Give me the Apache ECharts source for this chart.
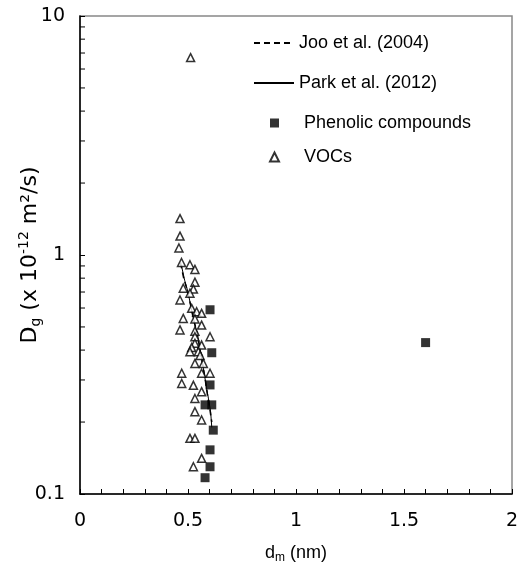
<!DOCTYPE html>
<html><head><meta charset="utf-8">
<script src="https://cdn.jsdelivr.net/npm/echarts@6/dist/echarts.min.js"></script>
<style>html,body{margin:0;padding:0;background:#fff}#c{width:519px;height:563px}</style>
</head><body><div id="c"></div>
<script>
// ---- data ----
const xTickLabels = ['0', '0.5', '1', '1.5', '2'];
const yTickLabels = ['0.1', '1', '10'];
const yMinorTickValues = [0.2,0.3,0.4,0.5,0.6,0.7,0.8,0.9,2,3,4,5,6,7,8,9];
const lineNames = ['Joo et al. (2004)', 'Park et al. (2012)'];
const markerNames = ['Phenolic compounds', 'VOCs'];
const jooLine = [[0.465,0.93],[0.48,0.8],[0.495,0.72],[0.505,0.66],[0.515,0.6],[0.525,0.54],[0.54,0.48],[0.55,0.43],[0.56,0.38],[0.57,0.34],[0.58,0.3],[0.59,0.26],[0.6,0.23],[0.61,0.2]];
const parkLine = [[0.47,0.9],[0.485,0.78],[0.5,0.7],[0.51,0.63],[0.52,0.57],[0.53,0.52],[0.545,0.46],[0.555,0.41],[0.565,0.36],[0.575,0.32],[0.585,0.28],[0.595,0.25],[0.605,0.22],[0.61,0.19]];
const phenolic = [[1.6,0.43],[0.602,0.59],[0.61,0.39],[0.602,0.286],[0.579,0.236],[0.61,0.236],[0.617,0.185],[0.602,0.153],[0.602,0.13],[0.579,0.117]];
const vocs = [[0.512,6.7],[0.463,1.42],[0.463,1.2],[0.458,1.07],[0.47,0.93],[0.509,0.91],[0.532,0.87],
 [0.532,0.77],[0.478,0.726],[0.525,0.72],[0.509,0.692],[0.463,0.648],[0.517,0.598],[0.54,0.579],[0.563,0.57],
 [0.478,0.543],[0.532,0.54],[0.563,0.509],[0.463,0.486],[0.532,0.48],[0.602,0.455],[0.532,0.455],
 [0.532,0.427],[0.517,0.41],[0.563,0.42],[0.509,0.394],[0.548,0.394],[0.556,0.38],[0.532,0.352],[0.571,0.352],
 [0.471,0.32],[0.563,0.32],[0.602,0.32],[0.471,0.29],[0.525,0.285],[0.563,0.268],[0.532,0.251],[0.532,0.221],
 [0.563,0.204],[0.509,0.171],[0.532,0.171],[0.563,0.141],[0.525,0.13]];

const FONT = 'Liberation Sans, Arial, sans-serif';
const WFONT = 'DejaVu Sans, sans-serif';
const chart = echarts.init(document.getElementById('c'));
chart.setOption({
  animation: false,
  backgroundColor: '#fff',
  grid: {left: 80, right: 7, top: 16, bottom: 69, show: true, borderColor: '#888', borderWidth: 1.5,
         containLabel: false, outerBoundsMode: 'none'},
  legend: [{
    orient: 'vertical', left: 248, top: 29, itemWidth: 40, itemHeight: 9, itemGap: 22,
    data: lineNames, itemStyle: {opacity: 0},
    textStyle: {fontFamily: FONT, fontSize: 18, color: '#000'}
  }, {
    orient: 'vertical', left: 264, top: 109, itemWidth: 9, itemHeight: 9, itemGap: 16,
    data: markerNames,
    textStyle: {fontFamily: FONT, fontSize: 18, color: '#000', padding: [0, 0, 0, 20]}
  }],
  xAxis: {
    type: 'value', min: 0, max: 2, interval: 0.5,
    axisLine: {lineStyle: {color: '#000', width: 1.5}},
    axisTick: {inside: true, length: 5, lineStyle: {color: '#000'}},
    minorTick: {show: true, splitNumber: 5, length: 5, lineStyle: {color: '#000'}},
    splitLine: {show: false},
    axisLabel: {fontFamily: WFONT, fontSize: 19, color: '#000', margin: 18,
      formatter: (v) => xTickLabels[Math.round(v / 0.5)]},
    name: '{a|d}{sub|m}{a| (nm)}', nameLocation: 'middle', nameGap: 48, nameMoveOverlap: false,
    nameTextStyle: {rich: {
      a: {fontFamily: FONT, fontSize: 18, color: '#000', lineHeight: 22, verticalAlign: 'middle'},
      sub: {fontFamily: FONT, fontSize: 12, color: '#000', verticalAlign: 'bottom'}}}
  },
  yAxis: {
    type: 'log', logBase: 10, min: 0.1, max: 10,
    axisLine: {lineStyle: {color: '#000', width: 1.5}},
    axisTick: {inside: true, length: 5, lineStyle: {color: '#000'}},
    splitLine: {show: false},
    axisLabel: {fontFamily: WFONT, fontSize: 19, color: '#000', margin: 15,
      formatter: (v) => yTickLabels[Math.round(Math.log10(v)) + 1]},
    name: '{a|D}{sub|g}{a| (x 10}{sup|-12}{a| m²/s)}', nameLocation: 'middle', nameGap: 37, nameMoveOverlap: false,
    nameTextStyle: {rich: {
      a: {fontFamily: WFONT, fontSize: 22, color: '#000', lineHeight: 26, verticalAlign: 'middle'},
      sub: {fontFamily: WFONT, fontSize: 14, color: '#000', verticalAlign: 'bottom'},
      sup: {fontFamily: WFONT, fontSize: 14, color: '#000', verticalAlign: 'top'}}}
  },
  series: [
    {name: lineNames[0], type: 'line', data: jooLine, symbol: 'none', showSymbol: false,
     lineStyle: {color: '#000', width: 1.5, type: [6, 4]}, itemStyle: {color: '#000'}, z: 3},
    {name: lineNames[1], type: 'line', data: parkLine, symbol: 'none', showSymbol: false,
     lineStyle: {color: '#000', width: 1}, itemStyle: {color: '#000'}, z: 3},
    {name: markerNames[0], type: 'scatter', data: phenolic, symbol: 'rect', symbolSize: 9,
     itemStyle: {color: '#000'}, z: 4},
    {name: markerNames[1], type: 'scatter', data: vocs, symbol: 'triangle', symbolSize: 8,
     itemStyle: {color: '#fff', borderColor: '#000', borderWidth: 1.5}, z: 5},
    {type: 'custom', silent: true, data: yMinorTickValues.map(v => [0, v]),
     renderItem: function (params, api) {
       const p = api.coord([api.value(0), api.value(1)]);
       return {type: 'line', shape: {x1: p[0], y1: p[1], x2: p[0] + 5, y2: p[1]},
               style: {stroke: '#000', lineWidth: 1}};
     }, z: 6}
  ]
});
</script></body></html>
